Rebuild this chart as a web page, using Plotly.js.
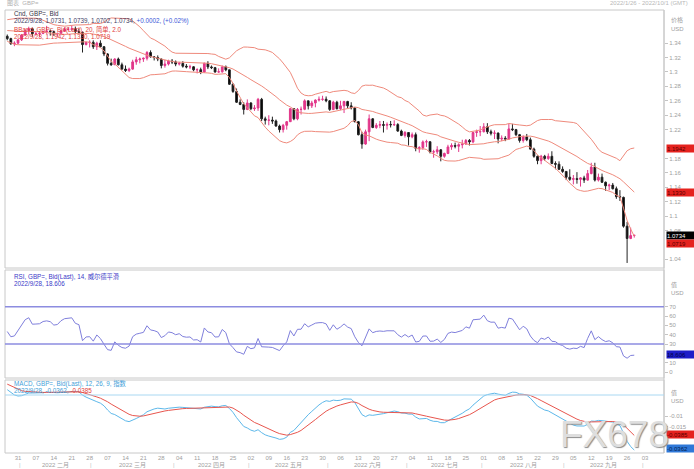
<!DOCTYPE html>
<html><head><meta charset="utf-8">
<script src="https://cdn.plot.ly/plotly-3.0.1.min.js"></script>
<style>html,body{margin:0;padding:0;background:#fff;}#chart{width:694px;height:469px;}</style>
</head><body><div id="chart"></div>
<script>
// ---------------- DATA (GBP= daily, 2022/1/26 - 2022/9/28) ----------------
const startDate = '2022-01-26';
const open = [1.3495,1.3463,1.3393,1.3400,1.3446,1.3512,1.3573,1.3600,1.3530,1.3532,
 1.3535,1.3560,1.3567,1.3560,1.3530,1.3535,1.3570,1.3590,1.3592,1.3598,
 1.3560,1.3550,1.3380,1.3410,1.3412,1.3350,1.3400,1.3350,1.3250,1.3120,
 1.3100,1.3180,1.3100,1.3040,1.3020,1.3040,1.3140,1.3170,1.3180,1.3190,
 1.3270,1.3210,1.3200,1.3180,1.3090,1.3110,1.3150,1.3140,1.3110,1.3120,
 1.3080,1.3070,1.3072,1.3030,1.3032,1.3000,1.3120,1.3070,1.3060,1.3000,
 1.3002,1.3070,1.3030,1.2830,1.2730,1.2580,1.2550,1.2480,1.2570,1.2490,
 1.2500,1.2620,1.2350,1.2330,1.2332,1.2320,1.2250,1.2200,1.2260,1.2310,
 1.2490,1.2350,1.2480,1.2482,1.2600,1.2530,1.2570,1.2610,1.2620,1.2622,
 1.2600,1.2480,1.2580,1.2490,1.2530,1.2590,1.2530,1.2500,1.2310,1.2130,
 1.2000,1.2170,1.2350,1.2230,1.2260,1.2270,1.2260,1.2272,1.2268,1.2270,
 1.2180,1.2120,1.2160,1.2100,1.2130,1.1940,1.1950,1.2030,1.2032,1.1890,
 1.1892,1.1920,1.1830,1.1870,1.1960,1.1980,1.1970,1.1990,1.2000,1.2050,
 1.2030,1.2160,1.2170,1.2172,1.2240,1.2170,1.2150,1.2152,1.2070,1.2080,
 1.2070,1.2210,1.2200,1.2130,1.2050,1.2100,1.2060,1.1930,1.1830,1.1770,
 1.1830,1.1800,1.1830,1.1730,1.1720,1.1650,1.1620,1.1540,1.1510,1.1520,
 1.1510,1.1530,1.1500,1.1590,1.1680,1.1500,1.1540,1.1470,1.1420,1.1430,
 1.1380,1.1270,1.1260,1.0860,1.0690,1.0731];
const high = [1.3520,1.3475,1.3425,1.3450,1.3522,1.3590,1.3628,1.3615,1.3560,1.3565,
 1.3575,1.3640,1.3590,1.3575,1.3545,1.3585,1.3620,1.3620,1.3645,1.3630,
 1.3600,1.3560,1.3420,1.3440,1.3440,1.3420,1.3440,1.3360,1.3260,1.3185,
 1.3190,1.3200,1.3130,1.3090,1.3060,1.3170,1.3210,1.3200,1.3200,1.3290,
 1.3300,1.3220,1.3230,1.3185,1.3170,1.3170,1.3180,1.3160,1.3140,1.3150,
 1.3110,1.3100,1.3080,1.3050,1.3060,1.3130,1.3150,1.3090,1.3070,1.3050,
 1.3090,1.3090,1.3030,1.2840,1.2770,1.2620,1.2580,1.2620,1.2580,1.2540,
 1.2640,1.2640,1.2380,1.2400,1.2380,1.2340,1.2270,1.2280,1.2320,1.2500,
 1.2500,1.2500,1.2520,1.2620,1.2600,1.2600,1.2620,1.2660,1.2670,1.2660,
 1.2610,1.2600,1.2600,1.2600,1.2600,1.2600,1.2580,1.2510,1.2320,1.2170,
 1.2200,1.2410,1.2360,1.2290,1.2320,1.2320,1.2300,1.2320,1.2330,1.2290,
 1.2200,1.2180,1.2160,1.2160,1.2160,1.1970,1.2050,1.2060,1.2035,1.1920,
 1.1970,1.1930,1.1880,1.1990,1.2010,1.2020,1.2010,1.2060,1.2070,1.2070,
 1.2170,1.2200,1.2250,1.2290,1.2290,1.2200,1.2190,1.2160,1.2120,1.2110,
 1.2280,1.2280,1.2210,1.2140,1.2120,1.2140,1.2090,1.1950,1.1840,1.1850,
 1.1850,1.1870,1.1900,1.1760,1.1760,1.1690,1.1620,1.1650,1.1570,1.1610,
 1.1540,1.1560,1.1640,1.1740,1.1740,1.1590,1.1590,1.1480,1.1450,1.1460,
 1.1410,1.1360,1.1270,1.0920,1.0840,1.0739];
const low = [1.3440,1.3375,1.3358,1.3390,1.3430,1.3500,1.3520,1.3490,1.3505,1.3490,
 1.3525,1.3530,1.3505,1.3500,1.3490,1.3520,1.3560,1.3575,1.3570,1.3530,
 1.3530,1.3270,1.3370,1.3340,1.3320,1.3305,1.3340,1.3220,1.3090,1.3085,
 1.3100,1.3090,1.3030,1.3000,1.2998,1.3030,1.3100,1.3120,1.3140,1.3160,
 1.3200,1.3160,1.3150,1.3050,1.3060,1.3090,1.3110,1.3080,1.3090,1.3060,
 1.3050,1.3040,1.3010,1.2980,1.2970,1.2990,1.3040,1.3040,1.2990,1.2990,
 1.2990,1.3010,1.2820,1.2710,1.2570,1.2540,1.2410,1.2470,1.2470,1.2460,
 1.2460,1.2320,1.2270,1.2260,1.2280,1.2240,1.2160,1.2160,1.2200,1.2310,
 1.2330,1.2330,1.2410,1.2470,1.2480,1.2500,1.2510,1.2590,1.2600,1.2580,
 1.2460,1.2470,1.2480,1.2470,1.2430,1.2500,1.2480,1.2300,1.2120,1.1935,
 1.1990,1.2040,1.2220,1.2210,1.2220,1.2160,1.2200,1.2230,1.2250,1.2170,
 1.2110,1.2090,1.1980,1.2080,1.1900,1.1880,1.1920,1.1960,1.1870,1.1810,
 1.1860,1.1760,1.1810,1.1860,1.1920,1.1940,1.1890,1.1940,1.1990,1.1980,
 1.2010,1.2100,1.2110,1.2160,1.2140,1.2120,1.2070,1.2010,1.2040,1.2040,
 1.2060,1.2180,1.2110,1.2020,1.2020,1.2040,1.1920,1.1810,1.1720,1.1720,
 1.1770,1.1780,1.1720,1.1650,1.1640,1.1600,1.1500,1.1490,1.1440,1.1450,
 1.1410,1.1460,1.1490,1.1580,1.1480,1.1480,1.1460,1.1350,1.1360,1.1370,
 1.1240,1.1210,1.0840,1.0350,1.0680,1.0702];
const close = [1.3463,1.3393,1.3400,1.3446,1.3512,1.3573,1.3600,1.3530,1.3532,1.3535,
 1.3560,1.3567,1.3560,1.3530,1.3535,1.3570,1.3590,1.3592,1.3598,1.3560,
 1.3550,1.3380,1.3410,1.3412,1.3350,1.3400,1.3350,1.3250,1.3120,1.3100,
 1.3180,1.3100,1.3040,1.3020,1.3040,1.3140,1.3170,1.3180,1.3190,1.3270,
 1.3210,1.3200,1.3180,1.3090,1.3110,1.3150,1.3140,1.3110,1.3120,1.3080,
 1.3070,1.3072,1.3030,1.3032,1.3000,1.3120,1.3070,1.3060,1.3000,1.3002,
 1.3070,1.3030,1.2830,1.2730,1.2580,1.2550,1.2480,1.2570,1.2490,1.2500,
 1.2620,1.2350,1.2330,1.2332,1.2320,1.2250,1.2200,1.2260,1.2310,1.2490,
 1.2350,1.2480,1.2482,1.2600,1.2530,1.2570,1.2610,1.2620,1.2622,1.2600,
 1.2480,1.2580,1.2490,1.2530,1.2590,1.2530,1.2500,1.2310,1.2130,1.2000,
 1.2170,1.2350,1.2230,1.2260,1.2270,1.2260,1.2272,1.2268,1.2270,1.2180,
 1.2120,1.2160,1.2100,1.2130,1.1940,1.1950,1.2030,1.2032,1.1890,1.1892,
 1.1920,1.1830,1.1870,1.1960,1.1980,1.1970,1.1990,1.2000,1.2050,1.2030,
 1.2160,1.2170,1.2172,1.2240,1.2170,1.2150,1.2152,1.2070,1.2080,1.2070,
 1.2210,1.2200,1.2130,1.2050,1.2100,1.2060,1.1930,1.1830,1.1770,1.1830,
 1.1800,1.1830,1.1730,1.1720,1.1650,1.1620,1.1540,1.1510,1.1520,1.1510,
 1.1530,1.1500,1.1590,1.1680,1.1500,1.1540,1.1470,1.1420,1.1430,1.1380,
 1.1270,1.1260,1.0860,1.0690,1.0730,1.0734];
// closes before the visible range (2021/11/1 - 2022/1/25), used by the indicators
const warmupClose = [1.3640,1.3610,1.3670,1.3500,1.3490,1.3550,1.3540,1.3410,1.3380,1.3410,
 1.3420,1.3450,1.3470,1.3500,1.3440,1.3400,1.3360,1.3330,1.3320,1.3330,
 1.3330,1.3300,1.3280,1.3310,1.3230,1.3270,1.3240,1.3200,1.3220,1.3260,
 1.3230,1.3210,1.3260,1.3330,1.3240,1.3230,1.3240,1.3330,1.3400,1.3410,
 1.3430,1.3440,1.3500,1.3480,1.3530,1.3480,1.3530,1.3560,1.3530,1.3590,
 1.3590,1.3640,1.3710,1.3710,1.3680,1.3640,1.3610,1.3620,1.3610,1.3550,
 1.3480,1.3500];
const dayTickLabels = ['31','07','14','21','28','07','14','21','28','04','11','18','25',
 '02','09','16','23','30','06','13','20','27','04','11','18','25','01','08','15','22','29',
 '05','12','19','26','03'];
const monthLabels = ['2022 二月','2022 三月','2022 四月','2022 五月','2022 六月','2022 七月','2022 八月','2022 九月'];
const monthNums = [2,3,4,5,6,7,8,9];
// labels hidden behind the value boxes (1.2, 1.06, 20) are left out, as in the reference
const priceTicks = [1.34,1.32,1.30,1.28,1.26,1.24,1.22,1.18,1.16,1.14,1.12,1.10,1.08,1.04];
const priceTickText = ['1.34','1.32','1.3','1.28','1.26','1.24','1.22','1.18','1.16','1.14','1.12','1.1','1.08','1.04'];
const rsiTicks = [70,60,50,40,30,10,0];
const macdTicks = [-0.01,-0.015];
const lastOHLC = '2022/9/28, 1.0731, 1.0739, 1.0702, 1.0734, ';
const lastChange = '+0.0002, (+0.02%)';
const lastBB = ['1.1942','1.1330','1.0719'];
const lastClose = '1.0734';
const lastRSI = '18.606';
const lastMACD = ['-0.0362','-0.0385'];

// ---------------- indicators (BBand 20/2.0, RSI 14 Wilder, MACD 12/26/9) ----------------
const all = warmupClose.concat(close);
const n0 = warmupClose.length;
const bbU=[], bbM=[], bbL=[];
for (let i=n0;i<all.length;i++){
  const w = all.slice(i-19,i+1);
  const m = w.reduce((a,b)=>a+b,0)/20;
  const sd = Math.sqrt(w.reduce((a,b)=>a+(b-m)*(b-m),0)/20);
  bbM.push(m); bbU.push(m+2*sd); bbL.push(m-2*sd);
}
const rsiAll=[]; let ag=0, al=0;
for (let i=1;i<all.length;i++){
  const d = all[i]-all[i-1], g=Math.max(d,0), l=Math.max(-d,0);
  if (i<=14){ ag+=g/14; al+=l/14; }
  else { ag=(ag*13+g)/14; al=(al*13+l)/14; }
  rsiAll[i] = al===0?100:100-100/(1+ag/al);
}
const rsi = rsiAll.slice(n0);
function ema(arr,p){ const k=2/(p+1); const out=[arr[0]]; for(let i=1;i<arr.length;i++) out.push(arr[i]*k+out[i-1]*(1-k)); return out; }
const e12=ema(all,12), e26=ema(all,26);
const macdAll=e12.map((v,i)=>v-e26[i]);
const sigAll=ema(macdAll,9);
const macd=macdAll.slice(n0), sig=sigAll.slice(n0);

// ---------------- calendar (weekdays) ----------------
const dates=[]; { let d=new Date(startDate+'T00:00:00Z'); while(dates.length<186){ const wd=d.getUTCDay(); if(wd!==0&&wd!==6) dates.push(new Date(d)); d=new Date(d.getTime()+86400000);} }
const xs = close.map((_,i)=>i);
const mondayIdx = dayTickLabels.map((_,k)=>3+5*k);

// ---------------- layout helpers ----------------
const L=5,R=664,T=10,B=453;
const py = p => (B-p)/(B-T);
const gray='#a0a0a0';
const FONT='"Liberation Sans", Arial, "Noto Sans CJK SC", sans-serif';

const traces = [
  {type:'candlestick', x:xs, open:open, high:high, low:low, close:close, xaxis:'x', yaxis:'y',
   increasing:{line:{color:'#e2378a',width:1},fillcolor:'#e2378a'},
   decreasing:{line:{color:'#222',width:1},fillcolor:'#000'}, whiskerwidth:0, hoverinfo:'skip'},
  {type:'scatter',mode:'lines',x:xs,y:bbU,yaxis:'y',line:{color:'#ef8a7c',width:1},hoverinfo:'skip'},
  {type:'scatter',mode:'lines',x:xs,y:bbM,yaxis:'y',line:{color:'#ef8a7c',width:1},hoverinfo:'skip'},
  {type:'scatter',mode:'lines',x:xs,y:bbL,yaxis:'y',line:{color:'#ef8a7c',width:1},hoverinfo:'skip'},
  {type:'scatter',mode:'lines',x:xs,y:rsi,yaxis:'y2',line:{color:'#7f7fdc',width:1},hoverinfo:'skip'},
  {type:'scatter',mode:'lines',x:xs,y:macd,yaxis:'y3',line:{color:'#5db8ea',width:1},hoverinfo:'skip'},
  {type:'scatter',mode:'lines',x:xs,y:sig,yaxis:'y3',line:{color:'#e8564e',width:1},hoverinfo:'skip'}
];

const yCommon = {side:'right',anchor:'x',showgrid:false,zeroline:false,showline:false,ticks:'outside',ticklen:3,
  tickcolor:'#c4c4c4',tickfont:{size:6,color:gray,family:FONT},fixedrange:true};

const shapes = [
  {type:'rect',xref:'paper',yref:'paper',x0:0,x1:1,y0:py(268),y1:1,line:{color:'#c8c8c8',width:1}},
  {type:'rect',xref:'paper',yref:'paper',x0:0,x1:1,y0:py(378),y1:py(270),line:{color:'#c8c8c8',width:1}},
  {type:'rect',xref:'paper',yref:'paper',x0:0,x1:1,y0:0,y1:py(380),line:{color:'#c8c8c8',width:1}},
  {type:'line',xref:'paper',x0:1,x1:1,yref:'paper',y0:0,y1:1,line:{color:'#c8c8c8',width:1}},
  {type:'line',xref:'paper',x0:0,x1:1,yref:'y2',y0:70,y1:70,line:{color:'#8c8ce0',width:1.5}},
  {type:'line',xref:'paper',x0:0,x1:1,yref:'y2',y0:30,y1:30,line:{color:'#8c8ce0',width:1.5}},
  {type:'line',xref:'paper',x0:0,x1:1,yref:'y3',y0:0,y1:0,line:{color:'#a9d8f2',width:1}}
];

const ann = [];
function txt(text,xpix,ypix,color,size,anchor){
  ann.push({xref:'paper',yref:'paper',x:(xpix-L)/(R-L),y:py(ypix),text:text,showarrow:false,
    xanchor:anchor||'left',yanchor:'middle',font:{size:size||6.3,color:color,family:FONT}});
}
txt('图表  GBP=',5,3,'#b0b0b0',6);
txt('2022/1/26 - 2022/10/1 (GMT)',690,3,'#b8b8b8',6,'right');
txt('Cnd, GBP=, Bid',12,14,'#333344');
txt(lastOHLC+'<span style="color:#3a56d8">'+lastChange+'</span>',12,20.7,'#3d3d66');
txt('BBand, GBP=, Bid(Last), 20, 简单, 2.0',12,29.3,'#e2403a');
txt('2022/9/28, '+lastBB.join(', '),12,36,'#e2403a');
txt('RSI, GBP=, Bid(Last), 14, 威尔德平滑',12,276,'#3a3ac8');
txt('2022/9/28, '+lastRSI,12,283.3,'#3a3ac8');
txt('MACD, GBP=, Bid(Last), 12, 26, 9, 指数',12,383,'#3fa0d8');
txt('2022/9/28, '+lastMACD[0]+', <span style="color:#e2403a">'+lastMACD[1]+'</span>',12,390,'#3fa0d8');
// unit labels on right axis column
txt('价格',669,20,gray,6); txt('USD',669,29,gray,6);
txt('值',669,285,gray,6); txt('USD',669,293,gray,6);
txt('值',669,393,gray,6); txt('USD',669,400.7,gray,6);
// value boxes on right axis
function box(text,yref,y,bg,fc,shift){
  ann.push({xref:'paper',x:1,xanchor:'left',xshift:2,yref:yref,y:y,yanchor:'middle',yshift:shift||0,text:text,
    showarrow:false,bgcolor:bg,font:{size:6,color:fc,family:FONT},width:27,height:7,align:'left',borderpad:0});
}
box(lastBB[0],'y',parseFloat(lastBB[0]),'#e5221e','#5a0000');
box(lastBB[1],'y',parseFloat(lastBB[1]),'#e5221e','#5a0000');
box(lastClose,'y',parseFloat(lastClose),'#000','#fff');
box(lastBB[2],'y',parseFloat(lastBB[2]),'#e5221e','#5a0000',-7);
box(lastRSI,'y2',parseFloat(lastRSI),'#1e1ec8','#00004a');
box(lastMACD[1],'paper',py(434),'#e5221e','#5a0000');
box(lastMACD[0],'paper',py(448),'#2f78d8','#002050');
// month row
monthNums.forEach((m,k)=>{
  const idx = dates.map((d,i)=>d.getUTCMonth()+1===m?i:-1).filter(i=>i>=0);
  const c=(idx[0]+idx[idx.length-1])/2;
  ann.push({xref:'x',yref:'paper',x:c,y:py(465),text:monthLabels[k],showarrow:false,yanchor:'middle',
    font:{size:6,color:gray,family:FONT}});
  ann.push({xref:'x',yref:'paper',x:idx[0]-0.5,y:py(465),text:'|',showarrow:false,yanchor:'middle',
    font:{size:6,color:'#c0c0c0',family:FONT}});
});
{ const oct = dates.findIndex(d=>d.getUTCMonth()+1===10);
  ann.push({xref:'x',yref:'paper',x:oct-0.5,y:py(465),text:'|',showarrow:false,yanchor:'middle',font:{size:6,color:'#c0c0c0',family:FONT}}); }
// watermark
ann.push({xref:'paper',yref:'paper',x:(614-L)/(R-L),y:py(434),text:'FX678',showarrow:false,xanchor:'center',yanchor:'middle',
  font:{size:37,color:'#dedede',family:FONT,shadow:'1px 1px 1px #8c8c8c'}});

const layout = {
  width:694,height:469,margin:{l:L,r:694-R,t:T,b:469-B},paper_bgcolor:'#fff',plot_bgcolor:'#fff',
  showlegend:false,font:{family:FONT},
  xaxis:{domain:[0,1],anchor:'y3',range:[-0.63,183.3],rangeslider:{visible:false},showgrid:false,zeroline:false,
    showline:false,tickmode:'array',tickvals:mondayIdx,ticktext:dayTickLabels,ticks:'',
    tickfont:{size:6,color:gray,family:FONT},fixedrange:true},
  yaxis:Object.assign({},yCommon,{domain:[py(268),1],range:[1.028,1.386],tickmode:'array',tickvals:priceTicks,ticktext:priceTickText}),
  yaxis2:Object.assign({},yCommon,{domain:[py(378),py(270)],range:[-6.4,109.3],tickmode:'array',tickvals:rsiTicks}),
  yaxis3:Object.assign({},yCommon,{domain:[0,py(380)],range:[-0.0276,0.00714],tickmode:'array',tickvals:macdTicks,ticktext:macdTicks.map(String)}),
  shapes:shapes,annotations:ann
};
Plotly.newPlot('chart',traces,layout,{displayModeBar:false,staticPlot:true});
</script></body></html>
